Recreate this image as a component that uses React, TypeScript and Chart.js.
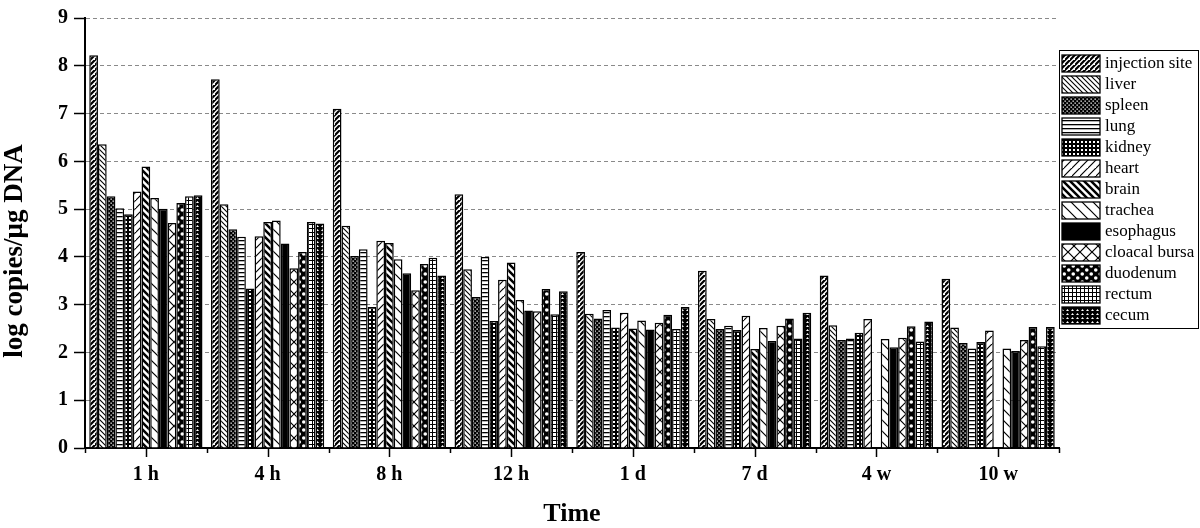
import React, { useEffect, useRef } from "react";
import { Chart, registerables } from "chart.js";

Chart.register(...registerables);

const categories = ["1 h", "4 h", "8 h", "12 h", "1 d", "7 d", "4 w", "10 w"];
const seriesNames = [
  "injection site", "liver", "spleen", "lung", "kidney", "heart", "brain",
  "trachea", "esophagus", "cloacal bursa", "duodenum", "rectum", "cecum",
];
const injectionSite = [8.22, 7.72, 7.10, 5.31, 4.10, 3.71, 3.61, 3.54];
const liver = [6.36, 5.10, 4.65, 3.74, 2.81, 2.70, 2.57, 2.52];
const spleen = [5.27, 4.58, 4.02, 3.16, 2.71, 2.49, 2.26, 2.20];
const lung = [5.02, 4.42, 4.16, 4.00, 2.89, 2.56, 2.29, 2.08];
const kidney = [4.89, 3.34, 2.95, 2.66, 2.52, 2.47, 2.41, 2.22];
const heart = [5.37, 4.43, 4.34, 3.52, 2.83, 2.77, 2.70, 2.46];
const brain = [5.89, 4.73, 4.29, 3.88, 2.50, 2.07, null, null];
const trachea = [5.23, 4.76, 3.95, 3.10, 2.67, 2.51, 2.28, 2.08];
const esophagus = [5.01, 4.28, 3.66, 2.88, 2.48, 2.24, 2.11, 2.03];
const cloacalBursa = [4.71, 3.76, 3.30, 2.86, 2.62, 2.56, 2.31, 2.26];
const duodenum = [5.13, 4.10, 3.85, 3.33, 2.79, 2.71, 2.55, 2.53];
const rectum = [5.27, 4.73, 3.98, 2.80, 2.49, 2.29, 2.23, 2.13];
const cecum = [5.29, 4.70, 3.61, 3.28, 2.95, 2.83, 2.65, 2.53];
const seriesValues = [
  injectionSite, liver, spleen, lung, kidney, heart, brain,
  trachea, esophagus, cloacalBursa, duodenum, rectum, cecum,
];
const patternKinds = [
  "fwdBold", "backThin", "dotsDark", "hLines", "gridDark", "fwdWide", "backBold",
  "backWide", "solid", "cross", "bigDotsDark", "grid", "smallDotsDark",
];
const yMin = 0;
const yMax = 9;
const yStep = 1;
const xTitle = "Time";
const yTitle = "log copies/\u03bcg DNA";

const SERIF = "'Liberation Serif', 'Times New Roman', serif";

function makePattern(kind: string): CanvasPattern | string {
  if (kind === "solid") return "#000";
  const c = document.createElement("canvas");
  let w = 6, h = 6;
  switch (kind) {
    case "fwdBold": w = h = 5; break;
    case "backThin": w = h = 5; break;
    case "dotsDark": w = h = 4; break;
    case "hLines": w = 4; h = 4; break;
    case "gridDark": w = h = 4; break;
    case "fwdWide": w = h = 8; break;
    case "backBold": w = h = 7; break;
    case "backWide": w = h = 11; break;
    case "cross": w = h = 12; break;
    case "bigDotsDark": w = 9; h = 8; break;
    case "grid": w = h = 4; break;
    case "smallDotsDark": w = 5; h = 4; break;
  }
  c.width = w; c.height = h;
  const g = c.getContext("2d")!;
  g.fillStyle = "#fff";
  g.fillRect(0, 0, w, h);
  g.strokeStyle = "#000";
  g.fillStyle = "#000";
  const fwd = (lw: number) => {
    g.lineWidth = lw;
    g.beginPath();
    g.moveTo(-1, h + 1); g.lineTo(w + 1, -1);
    g.moveTo(-w - 1, h + 1); g.lineTo(1, -1);
    g.moveTo(w - 1, 2 * h + 1); g.lineTo(2 * w + 1, h - 1);
    g.stroke();
  };
  const back = (lw: number) => {
    g.lineWidth = lw;
    g.beginPath();
    g.moveTo(-1, -1); g.lineTo(w + 1, h + 1);
    g.moveTo(-w - 1, -1); g.lineTo(1, h + 1);
    g.moveTo(w - 1, -1); g.lineTo(2 * w + 1, h + 1);
    g.moveTo(-1, -h - 1); g.lineTo(w + 1, 1);
    g.moveTo(-1, h - 1); g.lineTo(w + 1, 2 * h + 1);
    g.stroke();
  };
  switch (kind) {
    case "fwdBold": fwd(2.2); break;
    case "backThin": back(1.1); break;
    case "fwdWide": fwd(1.2); break;
    case "backBold": back(2.5); break;
    case "backWide": back(1.2); break;
    case "cross": fwd(1.2); back(1.2); break;
    case "hLines":
      g.fillRect(0, 0, w, 1.3);
      break;
    case "grid":
      g.fillRect(0, 0, w, 1);
      g.fillRect(0, 0, 1, h);
      break;
    case "dotsDark":
      g.fillRect(0, 0, w, h);
      g.fillStyle = "#fff";
      g.fillRect(0.5, 0.5, 1.3, 1.3);
      g.fillRect(2.5, 2.5, 1.3, 1.3);
      break;
    case "gridDark":
      g.fillRect(0, 0, w, h);
      g.fillStyle = "#fff";
      g.fillRect(1, 1, 2, 2);
      break;
    case "bigDotsDark":
      g.fillRect(0, 0, w, h);
      g.fillStyle = "#fff";
      g.beginPath();
      g.arc(2.25, 2, 1.8, 0, Math.PI * 2);
      g.fill();
      g.beginPath();
      g.arc(6.75, 6, 1.8, 0, Math.PI * 2);
      g.fill();
      break;
    case "smallDotsDark":
      g.fillRect(0, 0, w, h);
      g.fillStyle = "#fff";
      g.beginPath();
      g.moveTo(1, 3); g.lineTo(2.5, 1); g.lineTo(4, 3); g.closePath();
      g.fill();
      break;
  }
  const p = g.createPattern(c, "repeat");
  return p || "#000";
}

const extrasPlugin = {
  id: "extras",
  afterDraw(chart: any) {
    const ctx: CanvasRenderingContext2D = chart.ctx;
    const x = chart.scales.x;
    const area = chart.chartArea;
    ctx.save();
    // x tick marks
    ctx.strokeStyle = "#000";
    ctx.lineWidth = 1.5;
    for (let i = 0; i < categories.length; i++) {
      const c = Math.round(x.getPixelForValue(i)) + 0.5;
      ctx.beginPath();
      ctx.moveTo(c, area.bottom);
      ctx.lineTo(c, area.bottom + 9);
      ctx.stroke();
    }
    for (let i = 0; i <= categories.length; i++) {
      const b = Math.round(x.getPixelForValue(i - 0.5)) + 0.5;
      ctx.beginPath();
      ctx.moveTo(b, area.bottom);
      ctx.lineTo(b, area.bottom + 5);
      ctx.stroke();
    }
    // y title
    ctx.fillStyle = "#000";
    ctx.font = `bold 27px ${SERIF}`;
    ctx.translate(15, 251);
    ctx.rotate(-Math.PI / 2);
    ctx.textAlign = "center";
    ctx.textBaseline = "middle";
    ctx.fillText(yTitle, 0, 0);
    ctx.restore();

    // legend
    ctx.save();
    const lx = 1059.5, ly = 50.5, lw = 139, lh = 278;
    ctx.fillStyle = "#fff";
    ctx.fillRect(lx, ly, lw, lh);
    ctx.strokeStyle = "#000";
    ctx.lineWidth = 1;
    ctx.strokeRect(lx, ly, lw, lh);
    chart.data.datasets.forEach((ds: any, i: number) => {
      const sy = 55 + i * 21;
      ctx.fillStyle = ds.backgroundColor;
      ctx.fillRect(1062, sy, 38, 17);
      ctx.strokeStyle = "#000";
      ctx.lineWidth = 1.3;
      ctx.strokeRect(1062, sy, 38, 17);
      ctx.fillStyle = "#000";
      ctx.font = `17px ${SERIF}`;
      ctx.textAlign = "left";
      ctx.textBaseline = "middle";
      ctx.fillText(ds.label, 1105, sy + 9);
    });
    ctx.restore();
  },
};

export default function App() {
  const ref = useRef<HTMLCanvasElement | null>(null);
  useEffect(() => {
    if (!ref.current) return;
    const datasets = seriesNames.map((name, i) => ({
      label: name,
      data: seriesValues[i],
      backgroundColor: makePattern(patternKinds[i]) as any,
      borderColor: "#000",
      borderWidth: 1.5,
      categoryPercentage: 0.93,
      barPercentage: 1.0,
    }));
    const chart = new Chart(ref.current, {
      type: "bar",
      data: { labels: categories, datasets },
      options: {
        responsive: false,
        animation: false,
        layout: { padding: { left: 0, right: 141, top: 12, bottom: 0 } },
        plugins: {
          legend: { display: false },
          tooltip: { enabled: false },
        },
        scales: {
          x: {
            offset: true,
            grid: { display: false, drawTicks: false },
            border: { display: true, color: "#000", width: 2 },
            ticks: {
              color: "#000",
              font: { family: SERIF, size: 20, weight: "bold" },
              padding: 15,
              maxRotation: 0,
              autoSkip: false,
            },
            title: {
              display: true,
              text: xTitle,
              color: "#000",
              font: { family: SERIF, size: 26, weight: "bold", lineHeight: 1 },
              padding: { top: 0, bottom: 1 },
            },
            afterFit: (s: any) => { s.height = 80; },
          },
          y: {
            min: yMin,
            max: yMax,
            ticks: {
              stepSize: yStep,
              color: "#000",
              font: { family: SERIF, size: 20, weight: "bold" },
              padding: 6,
            },
            grid: {
              color: (c: any) => (c.tick && c.tick.value === 0 ? "rgba(0,0,0,0)" : "#8a8a8a"),
              lineWidth: 1,
              tickColor: "#000",
              tickLength: 11,
              tickWidth: 1.5,
            },
            border: { display: true, color: "#000", width: 2, dash: [4, 3] },
            afterFit: (s: any) => { s.width = 85; },
          },
        },
      } as any,
      plugins: [extrasPlugin],
    });
    return () => chart.destroy();
  }, []);
  return (
    <div style={{ position: "absolute", left: 0, top: 0, width: 1200, height: 528, background: "#fff" }}>
      <canvas ref={ref} width={1200} height={528} style={{ display: "block", width: 1200, height: 528 }} />
    </div>
  );
}
